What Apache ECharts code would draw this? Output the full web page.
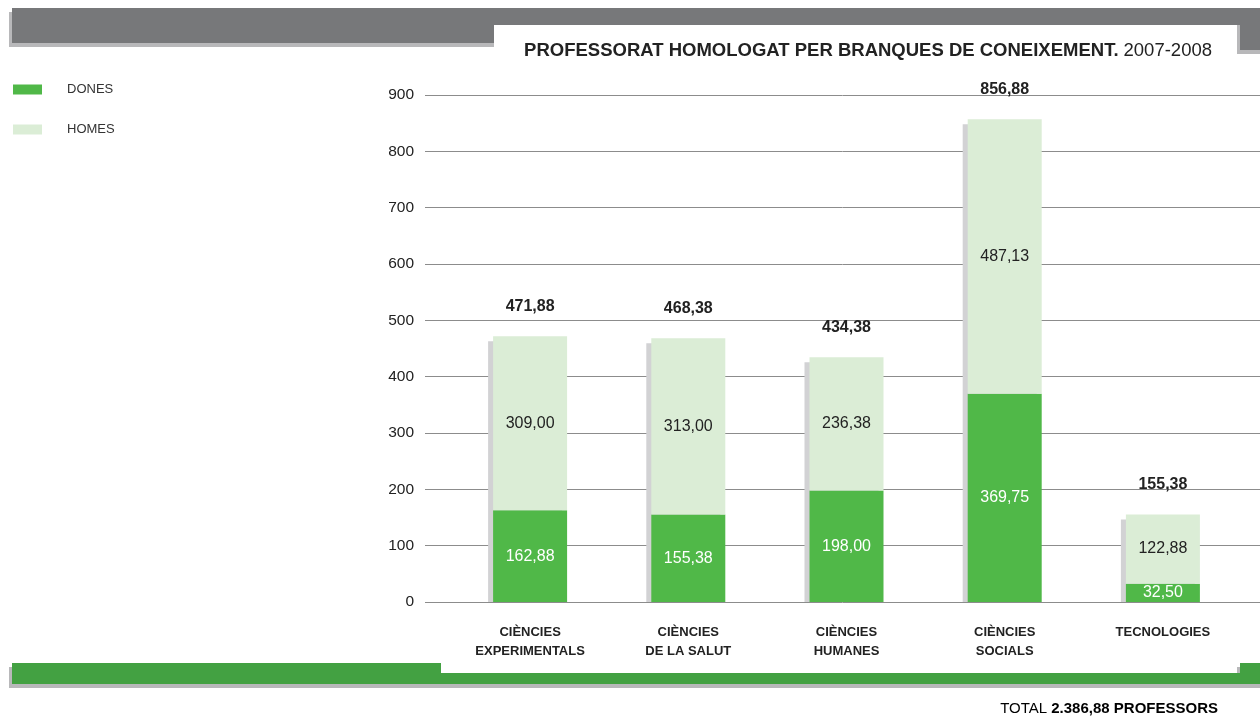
<!DOCTYPE html>
<html>
<head>
<meta charset="utf-8">
<script src="https://cdn.jsdelivr.net/npm/echarts@6/dist/echarts.min.js"></script>
<style>
  html, body { margin: 0; padding: 0; background: #fff; }
  #chart { width: 1260px; height: 716px; }
</style>
</head>
<body>
<div id="chart"></div>
<script>
const branques = ['CIÈNCIES\nEXPERIMENTALS', 'CIÈNCIES\nDE LA SALUT', 'CIÈNCIES\nHUMANES', 'CIÈNCIES\nSOCIALS', 'TECNOLOGIES']
const dones = [162.88, 155.38, 198.00, 369.75, 32.50]
const homes = [309.00, 313.00, 236.38, 487.13, 122.88]
const yTicks = [0, 100, 200, 300, 400, 500, 600, 700, 800, 900]

const totals = dones.map((d, i) => d + homes[i])
const font = "'Liberation Sans', Arial, Helvetica, sans-serif"
const BAR_W = 74
const fmt = v => v.toFixed(2).replace('.', ',')

const chart = echarts.init(document.getElementById('chart'))

const band = (shape, fill) => ({ type: 'rect', shape, style: { fill }, silent: true })

const option = {
  animation: false,
  textStyle: { fontFamily: font },
  title: {
    text: '{b|PROFESSORAT HOMOLOGAT PER BRANQUES DE CONEIXEMENT.} {n|2007-2008}',
    right: 43,
    top: 36,
    textStyle: {
      rich: {
        b: { fontFamily: font, fontSize: 18.5, fontWeight: 'bold', color: '#222' },
        n: { fontFamily: font, fontSize: 18.5, fontWeight: 'normal', color: '#222' }
      }
    }
  },
  legend: {
    orient: 'vertical',
    left: 8,
    top: 78,
    itemWidth: 29,
    itemHeight: 10,
    itemGap: 27,
    icon: 'rect',
    data: ['DONES', 'HOMES'],
    textStyle: { fontFamily: font, fontSize: 13, color: '#333', padding: [0, 0, 0, 20] }
  },
  graphic: [
    // top grey band with shadow
    band({ x: 9, y: 12, width: 485, height: 35 }, '#b8b8ba'),
    band({ x: 1237, y: 12, width: 23, height: 42 }, '#b8b8ba'),
    band({ x: 12, y: 8, width: 1248, height: 17 }, '#77787a'),
    band({ x: 12, y: 8, width: 482, height: 35 }, '#77787a'),
    band({ x: 1240, y: 8, width: 20, height: 42 }, '#77787a'),
    // bottom green band with shadow
    band({ x: 9, y: 667, width: 432, height: 21 }, '#b8b8ba'),
    band({ x: 438, y: 677, width: 822, height: 11 }, '#b8b8ba'),
    band({ x: 1237, y: 667, width: 23, height: 21 }, '#b8b8ba'),
    band({ x: 12, y: 663, width: 429, height: 21 }, '#43a142'),
    band({ x: 441, y: 673, width: 819, height: 11 }, '#43a142'),
    band({ x: 1240, y: 663, width: 20, height: 21 }, '#43a142'),
    {
      type: 'text',
      right: 42,
      top: 701,
      style: {
        text: '{n|TOTAL }{b|2.386,88 PROFESSORS}',
        rich: {
          n: { fontFamily: font, fontSize: 15, color: '#222' },
          b: { fontFamily: font, fontSize: 15, fontWeight: 'bold', color: '#222' }
        }
      }
    }
  ],
  grid: [
    { left: 425, right: 0, top: 95, bottom: 114 },
    { left: 451, right: 18, top: 95, bottom: 114 }
  ],
  xAxis: [
    { gridIndex: 0, type: 'category', data: branques, show: false },
    {
      gridIndex: 1,
      type: 'category',
      data: branques,
      axisLine: { show: false },
      axisTick: { show: false },
      axisLabel: {
        margin: 21,
        interval: 0,
        fontFamily: font,
        fontSize: 13,
        fontWeight: 'bold',
        color: '#222',
        lineHeight: 19
      }
    }
  ],
  yAxis: [
    {
      gridIndex: 0,
      type: 'value',
      min: yTicks[0],
      max: yTicks[yTicks.length - 1],
      interval: 100,
      axisLine: { show: false },
      axisTick: { show: false },
      axisLabel: { margin: 11, fontFamily: font, fontSize: 15.5, color: '#222' },
      splitLine: { lineStyle: { color: '#8c8c8c', width: 1 } }
    },
    {
      gridIndex: 1,
      type: 'value',
      min: yTicks[0],
      max: yTicks[yTicks.length - 1],
      interval: 100,
      show: false,
      splitLine: { show: false }
    }
  ],
  series: [
    {
      name: 'ombra',
      type: 'custom',
      xAxisIndex: 1,
      yAxisIndex: 1,
      z: 1,
      silent: true,
      data: totals.map((t, i) => [i, t]),
      renderItem: (params, api) => {
        const top = api.coord([api.value(0), api.value(1)])
        const base = api.coord([api.value(0), 0])
        return {
          type: 'rect',
          shape: { x: top[0] - BAR_W / 2 - 5, y: top[1] + 5, width: BAR_W, height: base[1] - top[1] - 5 },
          style: { fill: '#d2d2d4' }
        }
      }
    },
    {
      name: 'DONES',
      type: 'bar',
      stack: 'total',
      xAxisIndex: 1,
      yAxisIndex: 1,
      barWidth: BAR_W,
      z: 3,
      data: dones,
      itemStyle: { color: '#50b848' },
      label: {
        show: true,
        position: 'inside',
        formatter: p => fmt(p.value),
        fontFamily: font,
        fontSize: 16,
        color: '#fff'
      }
    },
    {
      name: 'HOMES',
      type: 'bar',
      stack: 'total',
      xAxisIndex: 1,
      yAxisIndex: 1,
      barWidth: BAR_W,
      z: 3,
      data: homes,
      itemStyle: { color: '#dbedd6' },
      label: {
        show: true,
        position: 'inside',
        formatter: p => fmt(p.value),
        fontFamily: font,
        fontSize: 16,
        color: '#222'
      }
    },
    {
      name: 'total',
      type: 'custom',
      xAxisIndex: 1,
      yAxisIndex: 1,
      z: 4,
      silent: true,
      data: totals.map((t, i) => [i, t]),
      renderItem: (params, api) => {
        const top = api.coord([api.value(0), api.value(1)])
        return {
          type: 'text',
          x: top[0],
          y: top[1] - 30,
          style: {
            text: fmt(api.value(1)),
            fontFamily: font,
            fontSize: 16,
            fontWeight: 'bold',
            fill: '#222',
            align: 'center',
            verticalAlign: 'middle'
          }
        }
      }
    }
  ]
}

chart.setOption(option)
</script>
</body>
</html>
